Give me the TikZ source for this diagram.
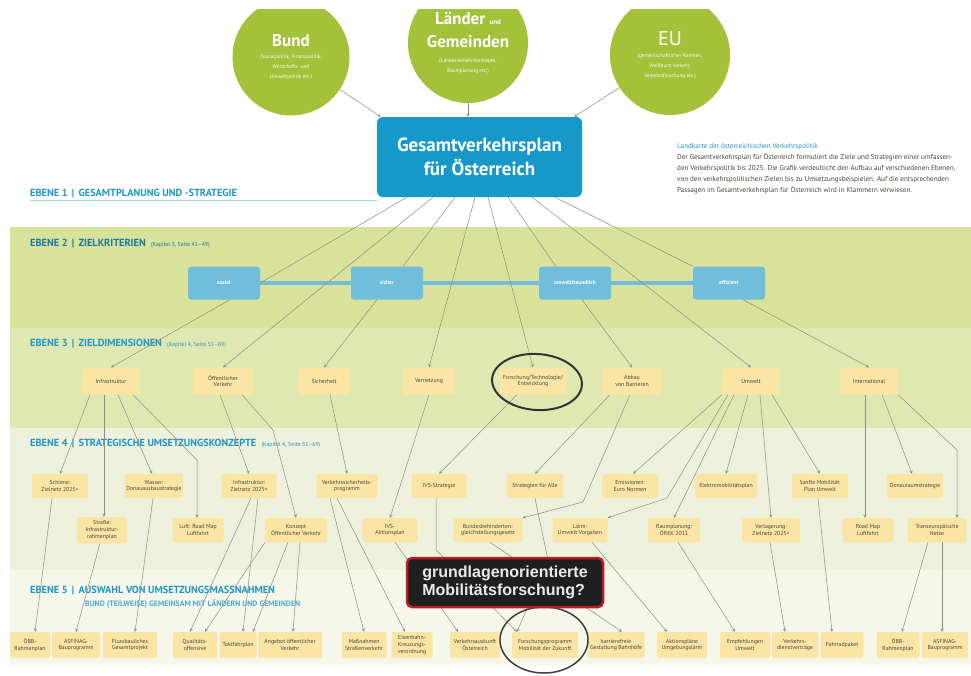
\documentclass[tikz,border=0pt]{standalone}
\usepackage{fontspec}
\setmainfont{PT Sans}
\newfontfamily\calloutfont{Liberation Sans}
\usetikzlibrary{calc}

\definecolor{kreisgruen}{RGB}{163,193,57}
\definecolor{gvpblau}{RGB}{22,152,200}
\definecolor{kritblau}{RGB}{112,190,220}
\definecolor{bandzwei}{RGB}{216,226,154}
\definecolor{banddrei}{RGB}{224,232,178}
\definecolor{bandvier}{RGB}{238,241,219}
\definecolor{bandfuenf}{RGB}{245,247,235}
\definecolor{boxgelb}{RGB}{251,229,165}
\definecolor{liniengrau}{RGB}{140,140,130}
\definecolor{ebenenblau}{RGB}{30,150,200}
\definecolor{textdunkel}{RGB}{70,70,60}
\definecolor{rahmenrot}{RGB}{180,30,40}

\newcommand\kapitel[1]{{\fontsize{5.8}{6}\selectfont\mdseries #1}}
\newcommand\klein{\fontsize{5.2}{10.2}\selectfont}
\newcommand\gross[1]{{\fontsize{17}{19}\selectfont\bfseries #1}}

\begin{document}
\begin{tikzpicture}[x=1pt,y=-1pt,
    zd/.style={fill=boxgelb, rounded corners=2, minimum height=27, inner sep=1,
      align=center, text=textdunkel, font=\fontsize{5.8}{6.8}\selectfont},
    uk/.style={zd, minimum height=24},
    um/.style={zd, minimum height=26},
    krit/.style={fill=kritblau, rounded corners=3, minimum width=72, minimum height=33,
      text=white, font=\fontsize{5.5}{6}\selectfont\bfseries},
    kreis/.style={circle, fill=kreisgruen, inner sep=0, text=white, align=center, font=\klein},
    pfeil/.style={draw=liniengrau, line width=0.5pt, -stealth},
    linie/.style={draw=liniengrau, line width=0.5pt},
    ebene/.style={anchor=west, inner sep=0, text=ebenenblau, font=\fontsize{10.3}{11}\selectfont\bfseries}]

    \useasboundingbox[fill=white] (0,0) rectangle (971,675);

    % Ebenen
    \fill[bandzwei] (10,227) rectangle (971,328);
    \fill[banddrei] (10,328) rectangle (971,428);
    \fill[bandvier] (10,428) rectangle (971,570);
    \fill[bandfuenf] (10,570) rectangle (971,665);

    \node[ebene] (ebene1) at (30,193) {EBENE 1 \,|\, GESAMTPLANUNG UND -STRATEGIE};
    \draw[kritblau!60, line width=1pt] (30,200) -- (377,200);
    \node[ebene, text=ebenenblau!80!black] (ebene2) at (30,243) {EBENE 2 \,|\, ZIELKRITERIEN\ \ \kapitel{(Kapitel 3, Seite 41--49)}};
    \node[ebene] (ebene3) at (30,343) {EBENE 3 \,|\, ZIELDIMENSIONEN\ \ \kapitel{(Kapitel 4, Seite 51--69)}};
    \node[ebene] (ebene4) at (30,443) {EBENE 4 \,|\, STRATEGISCHE UMSETZUNGSKONZEPTE\ \ \kapitel{(Kapitel 4, Seite 51--69)}};
    \node[ebene] (ebene5) at (30,590) {EBENE 5 \,|\, AUSWAHL VON UMSETZUNGSMASSNAHMEN};
    \node[ebene, font=\fontsize{7.8}{8}\selectfont\bfseries, text=ebenenblau!80] (ebene5b) at (85,604)
      {BUND (TEILWEISE) GEMEINSAM MIT LÄNDERN UND GEMEINDEN};

    % Akteure
    \begin{scope}
        \clip (0,9) rectangle (971,200);
        \node[kreis, minimum size=117] (bund) at (291,57)
          {\gross{Bund}\\[2pt](Sozialpolitik, Finanzpolitik,\\Wirtschafts- und\\Umweltpolitik etc.)};
        \node[kreis, minimum size=120] (laender) at (468,43)
          {\gross{Länder {\fontsize{7}{8}\selectfont und}}\\[9pt]\gross{Gemeinden}\\[5pt](Landesverkehrskonzepte,\\Raumplanung etc.)};
        \node[kreis, minimum size=120] (eu) at (670,55)
          {{\fontsize{20}{20}\selectfont EU}\\[2pt](gemeinschaftlicher Rahmen,\\Weißbuch Verkehr,\\Verkehrsforschung etc.)};
    \end{scope}

    \node[fill=gvpblau, rounded corners=6, minimum width=205, minimum height=80, text=white,
      align=center, font=\fontsize{19}{24}\selectfont\bfseries] (gvp) at (479.5,157)
      {Gesamtverkehrsplan\\für Österreich};

    \draw[pfeil] (bund) -- ([xshift=4]gvp.north west);
    \draw[pfeil] (laender) -- (laender |- gvp.north);
    \draw[pfeil] (eu) -- ([xshift=-8]gvp.north east);

    \node[anchor=north west, inner sep=0, align=left, text=textdunkel,
      font=\fontsize{7.1}{11}\selectfont] (legende) at (677,143)
      {{\color{ebenenblau}Landkarte der österreichischen Verkehrspolitik}\\
       Der Gesamtverkehrsplan für Österreich formuliert die Ziele und Strategien einer umfassen-\\
       den Verkehrspolitik bis 2025. Die Grafik verdeutlicht den Aufbau auf verschiedenen Ebenen,\\
       von den verkehrspolitischen Zielen bis zu Umsetzungsbeispielen. Auf die entsprechenden\\
       Passagen im Gesamtverkehrsplan für Österreich wird in Klammern verwiesen.};

    % Ebene 2
    \node[krit] (sozial) at (224,283) {sozial};
    \node[krit] (sicher) at (387,283) {sicher};
    \node[krit] (umwf) at (575,283) {umweltfreundlich};
    \node[krit] (eff) at (729,283) {effizient};
    \draw[kritblau, line width=4pt] (sozial.east) -- (sicher.west)
        (sicher.east) -- (umwf.west) (umwf.east) -- (eff.west);

    % Ebene 3
    \node[zd, minimum width=58] (infra) at (111,381) {Infrastruktur};
    \node[zd, minimum width=60] (oev) at (223,381) {Öffentlicher\\Verkehr};
    \node[zd, minimum width=52] (sich) at (324,381) {Sicherheit};
    \node[zd, minimum width=52] (vernetz) at (429,381) {Vernetzung};
    \node[zd, minimum width=67] (fte) at (533,381) {Forschung/Technologie/\\Entwicklung};
    \node[zd, minimum width=59] (abbau) at (632,381) {Abbau\\von Barrieren};
    \node[zd, minimum width=58] (umwelt) at (751,381) {Umwelt};
    \node[zd, minimum width=58] (intl) at (869,381) {International};

    % Ebene 4
    \node[uk, minimum width=56] (schiene) at (60,486) {Schiene:\\Zielnetz 2025+};
    \node[uk, minimum width=58] (wasser) at (154,486) {Wasser:\\Donauausbaustrategie};
    \node[uk, minimum width=55] (infzn) at (249,486) {Infrastruktur:\\Zielnetz 2025+};
    \node[uk, minimum width=61] (vsp) at (347,486) {Verkehrssicherheits-\\programm};
    \node[uk, minimum width=55] (ivsstr) at (439,486) {IVS-Strategie};
    \node[uk, minimum width=56] (strat) at (535,486) {Strategien für Alle};
    \node[uk, minimum width=56] (emiss) at (630,486) {Emissionen:\\Euro Normen};
    \node[uk, minimum width=62] (elektro) at (726,486) {Elektromobilitätsplan};
    \node[uk, minimum width=56] (sanft) at (820,486) {Sanfte Mobilität:\\Plan Umwelt};
    \node[uk, minimum width=56] (donau) at (915,486) {Donauraumstrategie};

    \node[uk, minimum width=50, minimum height=26] (strasse) at (102,530) {Straße:\\Infrastruktur-\\rahmenplan};
    \node[uk, minimum width=51] (luft) at (198,530) {Luft: Road Map\\Luftfahrt};
    \node[uk, minimum width=62] (konzept) at (296,530) {Konzept\\Öffentlicher Verkehr};
    \node[uk, minimum width=55] (ivsap) at (390,530) {IVS-\\Aktionsplan};
    \node[uk, minimum width=69] (bgstg) at (488,530) {Bundesbehinderten-\\gleichstellungsgesetz};
    \node[uk, minimum width=55] (laerm) at (580,530) {Lärm:\\Umwelt Vorgaben};
    \node[uk, minimum width=52] (raum) at (674,530) {Raumplanung:\\ÖREK 2011};
    \node[uk, minimum width=58] (verlag) at (771,530) {Verlagerung:\\Zielnetz 2025+};
    \node[uk, minimum width=51] (roadmap) at (868,530) {Road Map\\Luftfahrt};
    \node[uk, minimum width=59] (ten) at (937,530) {Transeuropäische\\Netze};

    % Ebene 5
    \node[um, minimum width=40] (oebb1) at (30,645) {ÖBB-\\Rahmenplan};
    \node[um, minimum width=48] (asf1) at (76,645) {ASFINAG-\\Bauprogramm};
    \node[um, minimum width=54] (fluss) at (130,645) {Flussbauliches\\Gesamtprojekt};
    \node[um, minimum width=44] (quali) at (195,645) {Qualitäts-\\offensive};
    \node[um, minimum width=37] (takt) at (238,645) {Taktfahrplan};
    \node[um, minimum width=64] (angebot) at (290,645) {Angebot öffentlicher\\Verkehr};
    \node[um, minimum width=45] (massn) at (364,645) {Maßnahmen\\Straßenverkehr};
    \node[um, minimum width=41] (eisenb) at (412,645) {Eisenbahn-\\Kreuzungs-\\verordnung};
    \node[um, minimum width=50] (vauskunft) at (475,645) {Verkehrsauskunft\\Österreich};
    \node[um, minimum width=66] (fprog) at (545,645) {Forschungsprogramm\\Mobilität der Zukunft};
    \node[um, minimum width=57] (barr) at (616,645) {barrierefreie\\Gestaltung Bahnhöfe};
    \node[um, minimum width=50] (aktion) at (682,645) {Aktionspläne\\Umgebungslärm};
    \node[um, minimum width=50] (empf) at (745,645) {Empfehlungen\\Umwelt};
    \node[um, minimum width=46] (vdv) at (795,645) {Verkehrs-\\dienstverträge};
    \node[um, minimum width=43] (rad) at (842,645) {Fahrradpaket};
    \node[um, minimum width=43] (oebb2) at (898,645) {ÖBB-\\Rahmenplan};
    \node[um, minimum width=46] (asf2) at (945,645) {ASFINAG-\\Bauprogramm};

    % Knicke
    \coordinate (knickluft) at (197,460);
    \coordinate (knickkonzept) at (273,430);
    \coordinate (knickbgstg) at (583,502);
    \coordinate (knicklaerm) at (667,498);
    \coordinate (knickten) at (957,450);
    \coordinate (knickivs) at (436,550);
    \coordinate (knickstrat) at (548,560);

    % Plan -> Ebene 2 und 3
    \draw[linie] ([xshift=-72.5]gvp.south) -- (sozial.east);
    \draw[pfeil] ([xshift=-46.5]gvp.south) -- (oev.north);
    \draw[linie] ([xshift=-24.5]gvp.south) -- ([xshift=16]sicher.north);
    \draw[pfeil] ([xshift=-4.5]gvp.south) -- (vernetz.north);
    \draw[pfeil] ([xshift=8.5]gvp.south) -- (fte.north);
    \draw[linie] ([xshift=28.5]gvp.south) -- ([xshift=17]umwf.north west);
    \draw[pfeil] ([xshift=52.5]gvp.south) -- (umwelt.north);
    \draw[linie] ([xshift=75.5]gvp.south) -- (eff.north west);

    \draw[pfeil] ([xshift=6]sozial.south) -- (infra.north);
    \draw[pfeil] ([xshift=-10]sicher.south) -- (sich.north);
    \draw[pfeil] ([xshift=7]umwf.south) -- (abbau.north);
    \draw[pfeil] ([xshift=14]eff.south) -- (intl.north);

    % Ebene 3 -> Ebene 4
    \draw[pfeil] ([xshift=-21]infra.south) -- (schiene.north);
    \draw[pfeil] ([xshift=-7]infra.south) -- ([xshift=2]strasse.north);
    \draw[pfeil] ([xshift=7]infra.south) -- ([xshift=-2]wasser.north);
    \draw[pfeil] ([xshift=22]infra.south) -- (knickluft) -- ([xshift=-1]luft.north);
    \draw[pfeil] ([xshift=-3]oev.south) -- (infzn.north);
    \draw[pfeil] ([xshift=19]oev.south) -- (knickkonzept) -- (konzept.north);
    \draw[pfeil] ([xshift=6]sich.south) -- (vsp.north);
    \draw[pfeil] (vernetz.south) -- (ivsap.north);
    \draw[pfeil] ([xshift=-16]fte.south) -- (ivsstr.north);
    \draw[pfeil] ([xshift=-22]abbau.south) -- (strat.north);
    \draw[pfeil] ([xshift=-2]abbau.south) -- (knickbgstg) -- (bgstg.north east);
    \draw[pfeil] ([xshift=-29]umwelt.south) -- ([xshift=3]emiss.north);
    \draw[pfeil] ([xshift=-23]umwelt.south) -- (knicklaerm) -- (laerm.north east);
    \draw[pfeil] ([xshift=-17]umwelt.south) -- (raum.north);
    \draw[pfeil] ([xshift=-3]umwelt.south) -- (elektro.north);
    \draw[pfeil] ([xshift=9]umwelt.south) -- (verlag.north);
    \draw[pfeil] ([xshift=21]umwelt.south) -- (sanft.north);
    \draw[pfeil] ([xshift=-4]intl.south) -- ([xshift=-3]roadmap.north);
    \draw[pfeil] ([xshift=13]intl.south) -- ([xshift=-3]donau.north);
    \draw[pfeil] ([xshift=29]intl.south) -- (knickten) -- ([xshift=20]ten.north);

    % Ebene 4 -> Ebene 5
    \draw[pfeil] ([xshift=-8]schiene.south) -- ([xshift=5]oebb1.north);
    \draw[pfeil] ([xshift=-2]strasse.south) -- (asf1.north);
    \draw[pfeil] ([xshift=-1]wasser.south) -- ([xshift=5]fluss.north);
    \draw[pfeil] ([xshift=2]infzn.south) -- ([xshift=-5]quali.north);
    \draw[pfeil] ([xshift=9]infzn.south) -- ([xshift=5]takt.north);
    \draw[pfeil] ([xshift=-31]konzept.south) -- ([xshift=10]quali.north);
    \draw[pfeil] ([xshift=-8]konzept.south) -- ([xshift=15]takt.north);
    \draw[pfeil] ([xshift=4]konzept.south) -- ([xshift=3]angebot.north);
    \draw[pfeil] ([xshift=-17]vsp.south) -- (massn.north);
    \draw[pfeil] ([xshift=-10]vsp.south) -- ([xshift=-7]eisenb.north);
    \draw[pfeil] ([xshift=5]ivsap.south) -- ([xshift=-17]vauskunft.north);
    \draw[pfeil] ([xshift=-3]ivsstr.south) -- (knickivs) -- ([xshift=-28]fprog.north);
    \draw[pfeil] (strat.south) -- (knickstrat) -- ([xshift=-28]fprog.north);
    \draw[pfeil] ([xshift=2]bgstg.south) -- ([xshift=6]barr.north);
    \draw[pfeil] ([xshift=12]laerm.south) -- ([xshift=-15]aktion.north);
    \draw[pfeil] ([xshift=4]raum.south) -- ([xshift=-10]empf.north);
    \draw[pfeil] ([xshift=-1]verlag.south) -- ([xshift=-10]vdv.north);
    \draw[pfeil] ([xshift=-2]sanft.south) -- ([xshift=-10]rad.north);
    \draw[pfeil] ([xshift=-9]ten.south) -- ([xshift=4]oebb2.north);
    \draw[pfeil] ([xshift=5]ten.south) -- ([xshift=-3]asf2.north);

    % Markierungen
    \draw[black!80, line width=2pt, rotate around={-4:(537,382)}] (537,382) ellipse [x radius=45pt, y radius=28pt];
    \draw[black!75, line width=1.5pt] (544,640) ellipse [x radius=44pt, y radius=33pt];

    \node[fill=black!88, draw=rahmenrot, line width=2.5pt, rounded corners=5, minimum width=196,
      minimum height=49, inner sep=4, align=left, text=white!92!black,
      font=\calloutfont\fontsize{16}{18}\selectfont\bfseries] (frage) at (505,582.5)
      {grundlagenorientierte\\Mobilitätsforschung?};
\end{tikzpicture}
\end{document}
